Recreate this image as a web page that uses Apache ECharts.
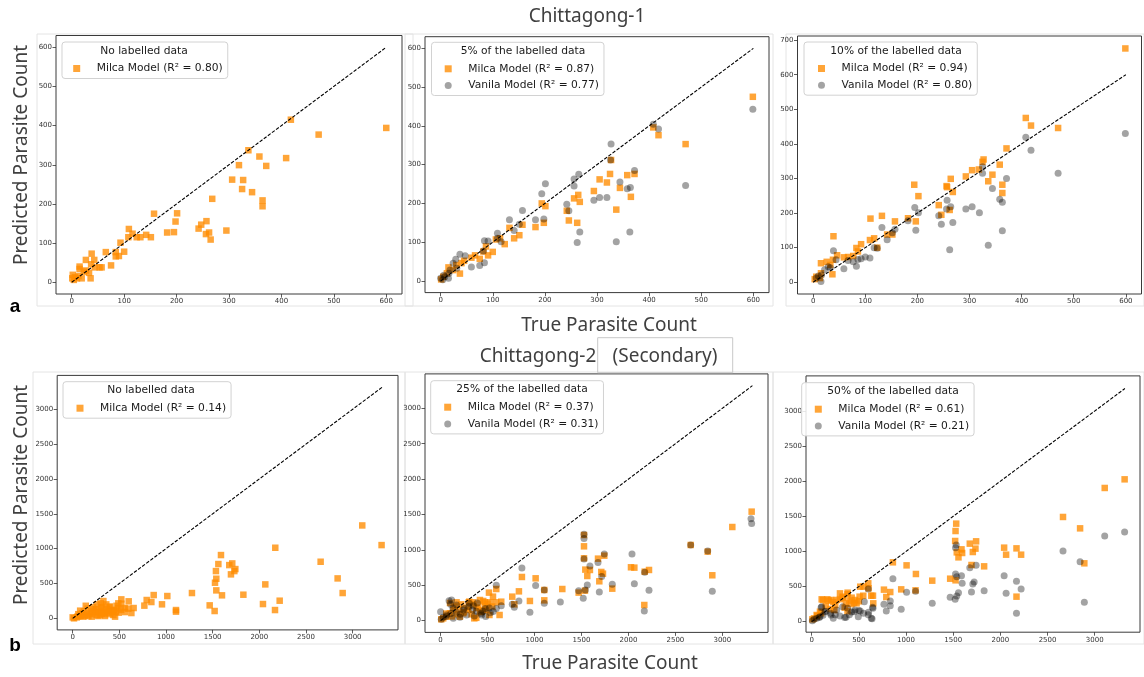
<!DOCTYPE html>
<html>
<head>
<meta charset="utf-8">
<script src="https://cdn.jsdelivr.net/npm/echarts@6/dist/echarts.min.js"></script>
<style>
  html, body { margin: 0; padding: 0; background: #fff; }
  #main { width: 1144px; height: 677px; }
</style>
</head>
<body>
<div id="main"></div>
<script>
// tick labels
var ticks600 = [0, 100, 200, 300, 400, 500, 600];
var ticks700 = [0, 100, 200, 300, 400, 500, 600, 700];
var ticks3000 = [0, 500, 1000, 1500, 2000, 2500, 3000];

// identity lines
var diagTop = [[0, 0], [600, 600]];
var diagBottom = [[0, 0], [3320, 3320]];

// legend texts
var legendTitles = ['No labelled data', '5% of the labelled data', '10% of the labelled data',
  'No labelled data', '25% of the labelled data', '50% of the labelled data'];
var milcaR2 = ['0.80', '0.87', '0.94', '0.14', '0.37', '0.61'];
var vanilaR2 = [null, '0.77', '0.80', null, '0.31', '0.21'];

// Chittagong-1, no labelled data
var p1Milca = [[600,394],[471,377],[418,415],[409,317],[337,337],[358,321],[371,297],[319,299],[306,262],
  [327,261],[325,238],[344,230],[364,209],[364,194],[268,213],[295,132],[257,156],[247,147],[242,137],
  [262,127],[256,123],[265,109],[182,127],[195,128],[198,155],[201,176],[157,175],[151,115],[142,121],
  [131,115],[124,115],[116,124],[109,136],[108,115],[100,78],[93,101],[90,67],[84,77],[84,66],[75,43],
  [65,77],[57,38],[43,57],[44,38],[38,73],[37,46],[36,10],[33,24],[27,57],[27,30],[19,10],[15,40],
  [15,34],[13,16],[6,13],[2,19],[4,6],[1,10],[10,10],[23,27],[53,38]];

// Chittagong-1, 5%
var p2Milca = [[599,475],[408,396],[418,376],[470,353],[327,312],[325,276],[305,262],[319,254],[358,273],
  [372,276],[344,240],[365,217],[337,184],[294,232],[264,222],[256,213],[267,204],[242,181],[246,156],
  [262,150],[194,200],[201,193],[182,139],[198,150],[157,145],[151,118],[141,110],[132,137],[123,95],
  [114,110],[106,107],[100,75],[91,66],[87,89],[75,57],[66,66],[59,60],[45,52],[37,19],[40,46],[30,41],
  [15,35],[12,20],[5,11],[1,4],[24,28],[82,76]];
var p2Vanila = [[599,443],[408,404],[418,392],[470,246],[327,353],[326,312],[265,275],[256,263],[256,245],
  [344,255],[372,285],[358,238],[364,241],[319,215],[305,215],[294,208],[242,198],[246,181],[267,126],
  [262,99],[337,101],[363,126],[201,251],[194,225],[182,158],[198,160],[157,182],[151,146],[132,158],
  [141,130],[109,123],[109,110],[116,101],[91,103],[84,104],[82,77],[75,40],[59,36],[84,47],[37,69],
  [47,65],[29,56],[24,46],[16,20],[8,11],[15,7],[4,3],[0,7],[18,28],[31,33],[6,15]];

// Chittagong-1, 10%
var p3Milca = [[599,676],[408,475],[418,453],[470,446],[371,387],[358,340],[327,355],[325,348],[318,326],
  [305,324],[344,311],[293,306],[336,292],[363,282],[363,258],[264,299],[256,278],[257,275],[268,261],
  [241,223],[246,195],[262,209],[194,282],[202,249],[182,185],[197,176],[157,176],[152,138],[142,138],
  [132,192],[110,184],[117,127],[109,122],[123,100],[92,110],[83,99],[86,89],[77,76],[59,72],[67,73],
  [39,133],[46,78],[38,65],[26,59],[15,55],[33,50],[37,23],[15,26],[6,16],[3,9],[13,12]];
var p3Vanila = [[599,430],[408,419],[418,382],[470,315],[371,300],[344,271],[325,315],[325,334],[358,240],
  [363,231],[363,149],[336,107],[319,201],[305,218],[293,212],[257,237],[264,218],[256,212],[241,192],
  [246,168],[268,173],[262,94],[195,216],[202,201],[197,150],[182,178],[157,153],[152,143],[142,123],
  [132,158],[123,98],[109,70],[117,100],[100,73],[92,68],[86,66],[83,46],[77,59],[67,63],[59,39],
  [39,91],[44,65],[29,45],[22,36],[15,2],[6,12],[16,21],[33,42],[10,18]];

// Chittagong-2, no labelled data
var p4Milca = [[3310,1051],[3103,1333],[2893,363],[2839,573],[2657,812],[2171,1013],[2064,487],[2218,253],
  [2168,119],[2039,205],[1829,339],[1589,908],[1561,779],[1535,678],[1539,568],[1525,511],[1539,401],
  [1600,330],[1521,105],[1468,186],[1678,764],[1710,788],[1743,707],[1732,678],[1696,631],[1278,363],
  [1107,119],[1107,96],[1014,320],[957,201],[868,334],[843,234],[793,263],[768,182],[653,148],[629,76],
  [600,244],[596,139],[557,148],[521,272],[521,210],[493,81],[464,96],[436,48],[393,158],[386,81],
  [329,248],[307,158],[300,215],[329,81],[257,48],[232,129],[186,72],[150,53],[100,72],[71,33],[43,14],
  [14,0],[0,14],[114,24],[204,24],[275,33],[346,33],[418,119],[454,24],[489,143],[364,129],[168,33],
  [489,215],[293,48],[50,24],[240,90],[130,40],[400,60],[60,60],[120,100],[160,140],[200,100],[250,130],
  [280,90],[320,160],[360,200],[400,170],[440,120],[470,180],[520,120],[560,90],[80,110],[140,180],
  [220,160],[260,200],[300,110],[340,60],[380,110],[90,40],[210,60],[310,70],[420,90]];

// Chittagong-2, 25%
var p5Milca = [[3312,1540],[3106,1323],[2893,641],[2844,975],[2663,1069],[2219,716],[2063,749],[2027,754],
  [2169,221],[2173,692],[1828,452],[1743,918],[1729,664],[1711,688],[1690,556],[1676,876],[1590,716],
  [1562,631],[1541,721],[1527,1050],[1527,1210],[1527,881],[1537,424],[1470,396],[1296,447],[1104,433],
  [1104,287],[1012,598],[951,278],[866,617],[834,414],[785,231],[763,339],[646,268],[628,80],[593,447],
  [593,259],[558,339],[515,396],[526,259],[476,198],[454,278],[419,292],[383,179],[359,33],[348,259],
  [305,268],[295,151],[241,104],[170,259],[135,151],[99,104],[64,57],[28,33],[7,19],[206,57],[437,127],
  [490,151],[100,250],[150,200],[200,160],[250,120],[300,260],[350,230],[400,200],[450,150],[500,240],
  [550,200],[60,100],[120,60],[180,90],[220,230],[280,180],[330,90],[380,40],[420,120],[470,260],[520,80]];
var p5Vanila = [[3305,1441],[3312,1371],[2893,414],[2844,984],[2663,1069],[2219,429],[2063,523],[2038,942],
  [2169,137],[2173,683],[1828,513],[1743,942],[1690,405],[1715,622],[1676,820],[1590,772],[1562,504],
  [1541,433],[1527,1159],[1527,1220],[1527,871],[1519,316],[1470,424],[1275,264],[1104,433],[1104,245],
  [1012,495],[951,118],[866,744],[834,278],[785,188],[763,231],[646,212],[593,499],[593,170],[531,113],
  [476,170],[454,132],[383,132],[359,66],[348,212],[305,245],[241,151],[170,221],[117,292],[106,231],
  [64,80],[28,47],[7,19],[0,127],[206,47],[135,33],[437,80],[277,80],[90,280],[130,180],[170,120],
  [210,90],[250,170],[300,200],[340,150],[390,250],[430,100],[480,60],[520,180],[560,130],[60,60],[110,100]];

// Chittagong-2, 50%
var p6Milca = [[3317,2027],[3106,1904],[2890,831],[2845,1329],[2664,1491],[2220,954],[2171,1044],[2171,356],
  [2061,954],[2040,1054],[1828,788],[1743,1144],[1736,1040],[1708,992],[1694,807],[1676,1111],[1595,978],
  [1588,1030],[1556,916],[1538,987],[1532,1396],[1525,1291],[1521,1149],[1525,589],[1468,612],[1278,584],
  [1101,446],[1105,679],[1006,802],[949,460],[861,845],[833,422],[791,351],[766,456],[632,370],[600,546],
  [603,475],[547,370],[515,498],[508,356],[459,309],[424,342],[381,413],[364,261],[328,356],[300,403],
  [265,309],[205,309],[166,318],[106,318],[88,142],[53,95],[25,47],[7,33],[240,166],[476,261],[653,261],
  [120,310],[180,300],[230,280],[300,320],[330,340],[380,390],[400,300],[420,250],[450,270],[500,290],
  [550,500],[650,370],[60,80],[100,120],[150,220],[200,180],[250,240],[350,200],[380,150]];
var p6Vanila = [[3317,1277],[3106,1220],[2890,275],[2845,854],[2664,1006],[2220,465],[2171,574],[2171,119],
  [2061,403],[2040,655],[1828,441],[1743,802],[1722,565],[1708,536],[1694,422],[1676,769],[1595,546],
  [1588,655],[1556,413],[1538,641],[1532,1092],[1525,1054],[1525,679],[1538,365],[1521,318],[1468,346],
  [1278,261],[1101,432],[1006,418],[949,176],[861,612],[833,294],[833,228],[791,152],[766,247],[632,47],
  [646,204],[600,465],[603,133],[558,285],[515,152],[459,166],[424,138],[381,190],[364,62],[328,214],
  [265,166],[205,95],[141,142],[106,214],[88,71],[53,47],[25,33],[7,14],[494,71],[229,47],
  [100,200],[150,150],[200,120],[250,100],[300,80],[350,60],[400,100],[450,140],[500,160],[550,120],
  [600,100],[650,190],[640,40],[80,60],[120,90]];

var panels = [
  { grid: { left: 56, top: 35.5, width: 346, height: 258.5 }, x: [-30, 630], y: [-30, 630], xt: ticks600, yt: ticks600,
    diag: diagTop, milca: p1Milca, vanila: null, legend: { left: 62, top: 42, pl: 11.2 }, titleX: 144 },
  { grid: { left: 425, top: 36.7, width: 344, height: 255.9 }, x: [-30, 630], y: [-30, 630], xt: ticks600, yt: ticks600,
    diag: diagTop, milca: p2Milca, vanila: p2Vanila, legend: { left: 431.5, top: 42.3, pl: 13.2 }, titleX: 523 },
  { grid: { left: 797.5, top: 36, width: 344, height: 258 }, x: [-30, 630], y: [-34, 712], xt: ticks600, yt: ticks700,
    diag: diagTop, milca: p3Milca, vanila: p3Vanila, legend: { left: 804, top: 42, pl: 14 }, titleX: 896 },
  { grid: { left: 57.2, top: 375.4, width: 340.8, height: 254.5 }, x: [-166, 3486], y: [-166, 3486], xt: ticks3000, yt: ticks3000,
    diag: diagBottom, milca: p4Milca, vanila: null, legend: { left: 63, top: 381.7, pl: 13.5 }, titleX: 151 },
  { grid: { left: 425, top: 373.9, width: 343, height: 258.5 }, x: [-166, 3486], y: [-166, 3486], xt: ticks3000, yt: ticks3000,
    diag: diagBottom, milca: p5Milca, vanila: p5Vanila, legend: { left: 430.7, top: 380.7, pl: 13.5 }, titleX: 522 },
  { grid: { left: 806, top: 375.9, width: 334, height: 256.3 }, x: [-60, 3480], y: [-150, 3500], xt: ticks3000, yt: ticks3000,
    diag: diagBottom, milca: p6Milca, vanila: p6Vanila, legend: { left: 801.7, top: 382.7, pl: 13.1 }, titleX: 893 }
];

var tickFont = 'DejaVu Sans';
var bigFont = 'Noto Sans';
var grids = [], xAxes = [], yAxes = [], series = [], legends = [], graphics = [];

// faint borders of the pasted sub-figures
[[37, 34, 376, 272], [405, 34, 368, 272], [786, 34, 358, 272],
 [33, 372, 372, 272], [405, 372, 368, 272], [773, 372, 371, 272]].forEach(function (r) {
  graphics.push({ type: 'rect', shape: { x: r[0], y: r[1], width: r[2], height: r[3] },
    style: { fill: null, stroke: '#e4e4e4', lineWidth: 1 }, z: -10 });
});

panels.forEach(function (p, i) {
  grids.push(Object.assign({ show: true, borderColor: '#3a3a3a', borderWidth: 1, backgroundColor: '#fff' }, p.grid));
  function axis(range, ticks) {
    return {
      type: 'value', gridIndex: i, min: range[0], max: range[1],
      splitLine: { show: false },
      axisLine: { show: false, onZero: false },
      axisTick: { show: true, length: 3.5, lineStyle: { color: '#333', width: 0.8 }, customValues: ticks },
      axisLabel: { customValues: ticks, fontFamily: tickFont, fontSize: 7, color: '#333', margin: 4,
        formatter: function (v) { return String(v); } }
    };
  }
  xAxes.push(axis(p.x, p.xt));
  yAxes.push(axis(p.y, p.yt));

  var mName = 'Milca Model (R\u00b2 = ' + milcaR2[i] + ')';
  var legendData = [{ name: mName, icon: 'rect' }];
  series.push({
    type: 'scatter', name: mName, xAxisIndex: i, yAxisIndex: i, data: p.milca,
    symbol: 'rect', symbolSize: 6.5, z: 2,
    itemStyle: { color: '#ff8c00', opacity: 0.78 }
  });
  if (p.vanila) {
    var vName = 'Vanila Model (R\u00b2 = ' + vanilaR2[i] + ')';
    legendData.push({ name: vName, icon: 'circle' });
    series.push({
      type: 'scatter', name: vName, xAxisIndex: i, yAxisIndex: i, data: p.vanila,
      symbol: 'circle', symbolSize: 7, z: 3,
      itemStyle: { color: '#000', opacity: 0.36 }
    });
  }
  series.push({
    type: 'line', xAxisIndex: i, yAxisIndex: i, data: p.diag, symbol: 'none', silent: true, z: 4,
    lineStyle: { color: '#000', width: 1.1, type: [3.5, 1.6] }
  });

  legends.push({
    orient: 'vertical', left: p.legend.left, top: p.legend.top, data: legendData,
    itemWidth: 7, itemHeight: 7, itemGap: 3.7, selectedMode: false,
    padding: [20, 5, 3.5, p.legend.pl],
    backgroundColor: 'rgba(255,255,255,0.85)', borderColor: '#d2d2d2', borderWidth: 1, borderRadius: 3,
    textStyle: { fontFamily: tickFont, fontSize: 10.7, color: '#1a1a1a', lineHeight: 13, padding: [0, 0, 0, 11.5] }
  });
  graphics.push({
    type: 'text', x: p.titleX, y: p.legend.top + 9, z: 100,
    style: { text: legendTitles[i], fontFamily: tickFont, fontSize: 10.7, fill: '#1a1a1a',
      textAlign: 'center', textVerticalAlign: 'middle' }
  });
});

function label(text, x, y, opts) {
  graphics.push({
    type: 'text', x: x, y: y, z: 100,
    style: Object.assign({ text: text, fontFamily: bigFont, fontSize: 19, fill: '#404040',
      textAlign: 'center', textVerticalAlign: 'middle' }, opts || {})
  });
}
label('Chittagong-1', 587, 17);
label('True Parasite Count', 609, 326);
label('Chittagong-2', 538, 357);
label('(Secondary)', 665, 357);
label('True Parasite Count', 610, 664);
graphics.push({ type: 'rect', shape: { x: 597.7, y: 337.7, width: 135, height: 35 },
  style: { fill: null, stroke: '#c8c8c8', lineWidth: 1 } });
graphics.push({ type: 'text', x: 22, y: 155, rotation: Math.PI / 2, z: 100,
  style: { text: 'Predicted Parasite Count', fontFamily: bigFont, fontSize: 19, fill: '#404040',
    textAlign: 'center', textVerticalAlign: 'middle' } });
graphics.push({ type: 'text', x: 22, y: 495, rotation: Math.PI / 2, z: 100,
  style: { text: 'Predicted Parasite Count', fontFamily: bigFont, fontSize: 19, fill: '#404040',
    textAlign: 'center', textVerticalAlign: 'middle' } });
label('a', 15, 307, { fontFamily: 'Liberation Sans', fontWeight: 'bold', fill: '#000', fontSize: 19 });
label('b', 15, 646, { fontFamily: 'Liberation Sans', fontWeight: 'bold', fill: '#000', fontSize: 19 });

var option = {
  backgroundColor: '#fff',
  animation: false,
  grid: grids,
  xAxis: xAxes,
  yAxis: yAxes,
  legend: legends,
  series: series,
  graphic: graphics
};
var my = echarts.init(document.getElementById('main'));
my.setOption(option);
</script>
</body>
</html>
